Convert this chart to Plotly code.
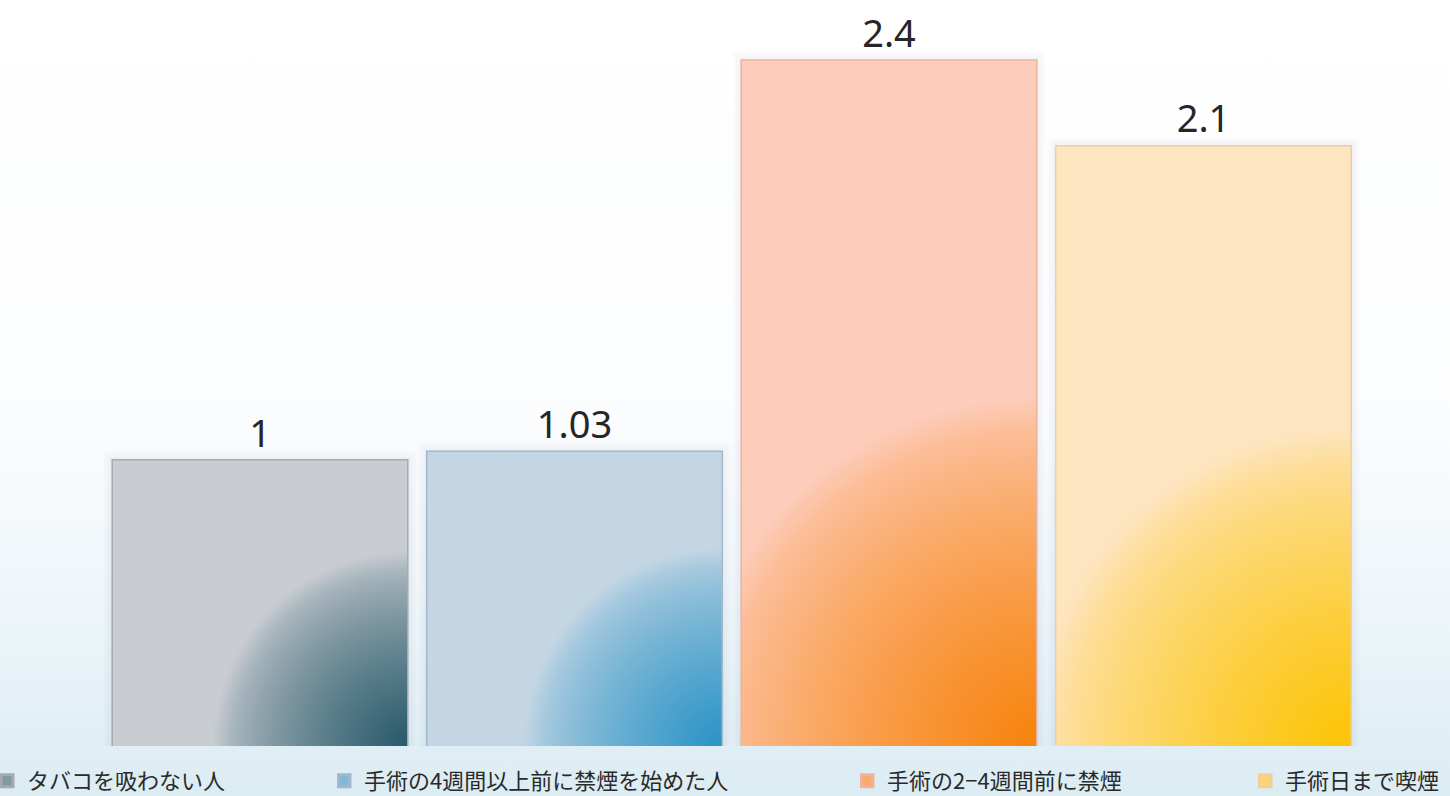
import base64
import math

import plotly.graph_objects as go

# ---- data -------------------------------------------------------------
categories = [
    "タバコを吸わない人",
    "手術の4週間以上前に禁煙を始めた人",
    "手術の2−4週間前に禁煙",
    "手術日まで喫煙",
]
values = [1, 1.03, 2.4, 2.1]
value_labels = ["1", "1.03", "2.4", "2.1"]

# ---- styling ----------------------------------------------------------
light = ["#c9cdd2", "#c4d6e4", "#fdccba", "#fde5bf"]   # upper part of each bar
deep = ["#28596a", "#2a93c6", "#f7830c", "#fcc404"]    # lower-right corner glow
edge = ["#a5abb1", "#a3b9ca", "#efb39c", "#f0cf9c"]    # bar outline
legend_x_px = [0, 337, 860, 1258]

W, H = 1450, 796
X_DOM = [102.75 / W, 1360.75 / W]
Y_DOM = [50 / H, 1.0]
Y_MAX = 2.613
BAR_W = 0.935
N = len(values)

px_x = (X_DOM[1] - X_DOM[0]) * W / N          # pixels per category unit
px_y = (Y_DOM[1] - Y_DOM[0]) * H / Y_MAX       # pixels per value unit


def hex_rgb(h):
    h = h.lstrip("#")
    return tuple(int(h[i:i + 2], 16) for i in (0, 2, 4))


def mix(a, b, t):
    ra, rb = hex_rgb(a), hex_rgb(b)
    return "rgb(%d,%d,%d)" % tuple(round(x + (y - x) * t) for x, y in zip(ra, rb))


fig = go.Figure()

# page background: white fading into a pale blue towards the bottom
bg_svg = (
    '<svg xmlns="http://www.w3.org/2000/svg" width="100" height="100" '
    'viewBox="0 0 1 1" preserveAspectRatio="none">'
    '<defs><linearGradient id="g" x1="0" y1="0" x2="0" y2="1">'
    '<stop offset="0" stop-color="#ffffff"/>'
    '<stop offset="0.5" stop-color="#fcfdfe"/>'
    '<stop offset="0.75" stop-color="#eff6fa"/>'
    '<stop offset="0.93" stop-color="#e0eff5"/>'
    '<stop offset="1" stop-color="#dbecf2"/>'
    '</linearGradient></defs>'
    '<rect x="0" y="0" width="1" height="1" fill="url(#g)"/></svg>'
)
bg_uri = "data:image/svg+xml;base64," + base64.b64encode(bg_svg.encode()).decode()

legend_ids = ["legend", "legend2", "legend3", "legend4"]

# soft halo around each bar, built from a few faint enlarged copies
for pad in (9, 6, 3):
    px_pad, py_pad = pad / px_x, pad / px_y
    fig.add_trace(go.Bar(
        x=list(range(N)), y=[v + py_pad for v in values], width=BAR_W + 2 * px_pad,
        marker=dict(color="rgba(130,145,160,0.035)", line=dict(width=0)),
        showlegend=False, hoverinfo="skip",
    ))

for i, (cat, v, lab) in enumerate(zip(categories, values, value_labels)):
    fig.add_trace(go.Bar(
        x=[i], y=[v], width=BAR_W, name=cat,
        marker=dict(color=mix(light[i], deep[i], 0.45),
                    line=dict(color=edge[i], width=3)),
        text=[lab], textposition="outside",
        textfont=dict(family="Noto Sans", size=38, color="#262626"),
        cliponaxis=False, legend=legend_ids[i], hoverinfo="skip",
    ))

# radial shading anchored at each bar's lower-right corner
STEPS, POWER = 10, 0.7
for i, v in enumerate(values):
    left, right = i - BAR_W / 2, i + BAR_W / 2
    w_px, h_px = BAR_W * px_x, v * px_y
    r_px = 0.29 * w_px + 0.384 * h_px
    s_px = max(w_px, h_px, r_px) * 1.02
    sx, sy = s_px / px_x, s_px / px_y
    xs = [left, left, right, right, right + sx, right, right, right, right, right, right - sx, left]
    ys = [0, v, v, 0, 0, 0, -sy, 0, sy, 0, 0, 0]
    t = r_px / s_px
    scale = [[t * k / STEPS, mix(light[i], deep[i], (1 - k / STEPS) ** POWER)]
             for k in range(STEPS + 1)]
    scale.append([1, light[i]])
    fig.add_trace(go.Scatter(
        x=xs, y=ys, mode="lines", fill="toself",
        line=dict(width=0, simplify=False),
        fillgradient=dict(type="radial", colorscale=scale),
        showlegend=False, hoverinfo="skip",
    ))

legend_common = dict(
    orientation="h", xref="paper", yref="paper",
    yanchor="middle", xanchor="left", y=1 - 781 / H,
    bgcolor="rgba(0,0,0,0)", indentation=-13,
    font=dict(family="Noto Sans CJK JP", size=22, color="#2a2a2a"),
)
layout_legends = {lid: dict(legend_common, x=legend_x_px[k] / W) for k, lid in enumerate(legend_ids)}

fig.update_layout(
    width=W, height=H,
    margin=dict(l=0, r=0, t=0, b=0, autoexpand=False),
    paper_bgcolor="#ffffff", plot_bgcolor="rgba(0,0,0,0)",
    barmode="overlay",
    showlegend=True,
    xaxis=dict(domain=X_DOM, range=[-0.5, N - 0.5], visible=False, fixedrange=True),
    yaxis=dict(domain=Y_DOM, range=[0, Y_MAX], visible=False, fixedrange=True),
    images=[dict(source=bg_uri, xref="paper", yref="paper", x=0, y=1,
                 sizex=1, sizey=1, sizing="stretch", layer="below")],
    **layout_legends,
)

fig.write_html("out.html")
